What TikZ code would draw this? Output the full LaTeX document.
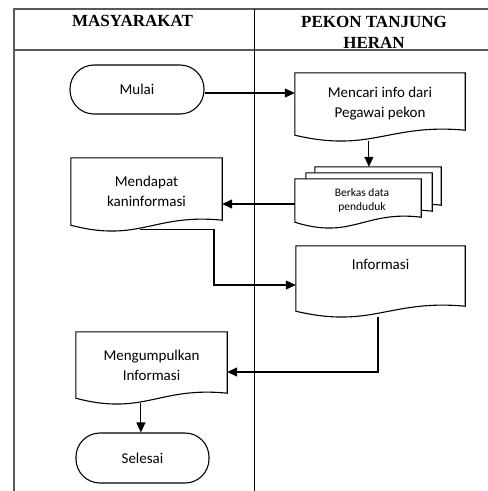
\documentclass[tikz,border=0pt]{standalone}
\usepackage{fontspec}
\setmainfont{Carlito}
\newfontfamily\hdrfont{Liberation Serif}
\usetikzlibrary{arrows.meta,calc,backgrounds}
\tikzset{
 shapeline/.style={draw=black, line width=1.1pt, fill=white},
 docnode/.style={inner sep=0pt, align=center, font=\fontsize{15}{20}\selectfont},
 term/.style={draw, line width=1.1pt, rounded corners=24pt, inner sep=0pt, font=\fontsize{15}{20}\selectfont},
 arr/.style={line width=1.1pt, -{Triangle[length=10pt,width=9pt]}},
 frameline/.style={draw=gray!70!black, line width=1.3pt},
 hdr/.style={font=\hdrfont\bfseries\fontsize{17}{21}\selectfont, align=center, inner sep=0pt},
}
\newcommand\docoutline[1]{\begin{scope}[on background layer]\path[shapeline] (#1.south west) .. controls ([yshift=-18pt]$(#1.south west)!0.45!(#1.south east)$) and ([yshift=12pt]$(#1.south west)!0.55!(#1.south east)$) .. ([yshift=5pt]#1.south east) -- (#1.north east) -- (#1.north west) -- cycle;\end{scope}}
\begin{document}
\begin{tikzpicture}[x=1pt,y=-1pt]
\useasboundingbox (0,0) rectangle (488,491);
% frame
\draw[frameline] (14,491) -- (14,9) -- (488,9);
\draw[frameline] (14,50) -- (488,50);
\draw[line width=0.8pt] (254,9) -- (254,491);
\node[hdr] (h1) at (132.5,21) {MASYARAKAT};
\node[hdr] (h2) at (374,32) {PEKON TANJUNG\\HERAN};
% shapes
\node[term, minimum width=134pt, minimum height=49pt] (mulai) at (137,89.5) {Mulai};
\node[docnode, minimum width=170pt, minimum height=62pt] (mencari) at (380,104) {Mencari info dari\\Pegawai pekon};
\docoutline{mencari}
\node[docnode, minimum width=126pt, minimum height=43pt] (berkasA) at (378,188.5) {};
\node[docnode, minimum width=126pt, minimum height=43pt] (berkasB) at (369,194.5) {};
\node[docnode, minimum width=126pt, minimum height=43pt, font=\fontsize{11.5}{14}\selectfont] (berkas) at (358,200.5) {\hspace*{8pt}Berkas data\\\hspace*{8pt}penduduk};
\docoutline{berkasA}
\docoutline{berkasB}
\docoutline{berkas}
\node[docnode, minimum width=151pt, minimum height=67pt] (mendapat) at (146.5,191.5) {Mendapat\\kaninformasi};
\docoutline{mendapat}
\node[docnode, minimum width=169pt, minimum height=65pt] (informasi) at (380.5,278.5) {Informasi\\[9pt]~};
\docoutline{informasi}
\node[docnode, minimum width=151pt, minimum height=66pt] (mengumpulkan) at (151.5,365) {Mengumpulkan\\Informasi};
\docoutline{mengumpulkan}
\node[term, minimum width=133pt, minimum height=50pt] (selesai) at (142.5,458) {Selesai};
% connectors
\coordinate (c1) at ([yshift=-3.5pt]mulai.east);
\draw[arr] (c1) -- (c1 -| mencari.west);
\coordinate (c2) at ([yshift=-6pt]$(mencari.south west)!0.435!(mencari.south east)$);
\draw[arr] (c2) -- (c2 |- berkasA.north);
\coordinate (c3) at ([yshift=-3.5pt]berkas.west);
\draw[arr] (c3) -- (c3 -| mendapat.east);
\coordinate (c4) at ([yshift=-4pt]$(mendapat.south west)!0.457!(mendapat.south east)$);
\coordinate (c4b) at ([yshift=-6.5pt]informasi.west);
\draw[arr] (c4) -- ++(74,0) |- (c4b);
\coordinate (c5) at ([yshift=-6pt]$(informasi.south west)!0.485!(informasi.south east)$);
\coordinate (c5b) at ([yshift=-7pt]mengumpulkan.east);
\draw[arr] (c5) |- (c5b);
\coordinate (c6) at ([yshift=-5pt]$(mengumpulkan.south west)!0.43!(mengumpulkan.south east)$);
\draw[arr] (c6) -- (c6 |- selesai.north);
\end{tikzpicture}
\end{document}
